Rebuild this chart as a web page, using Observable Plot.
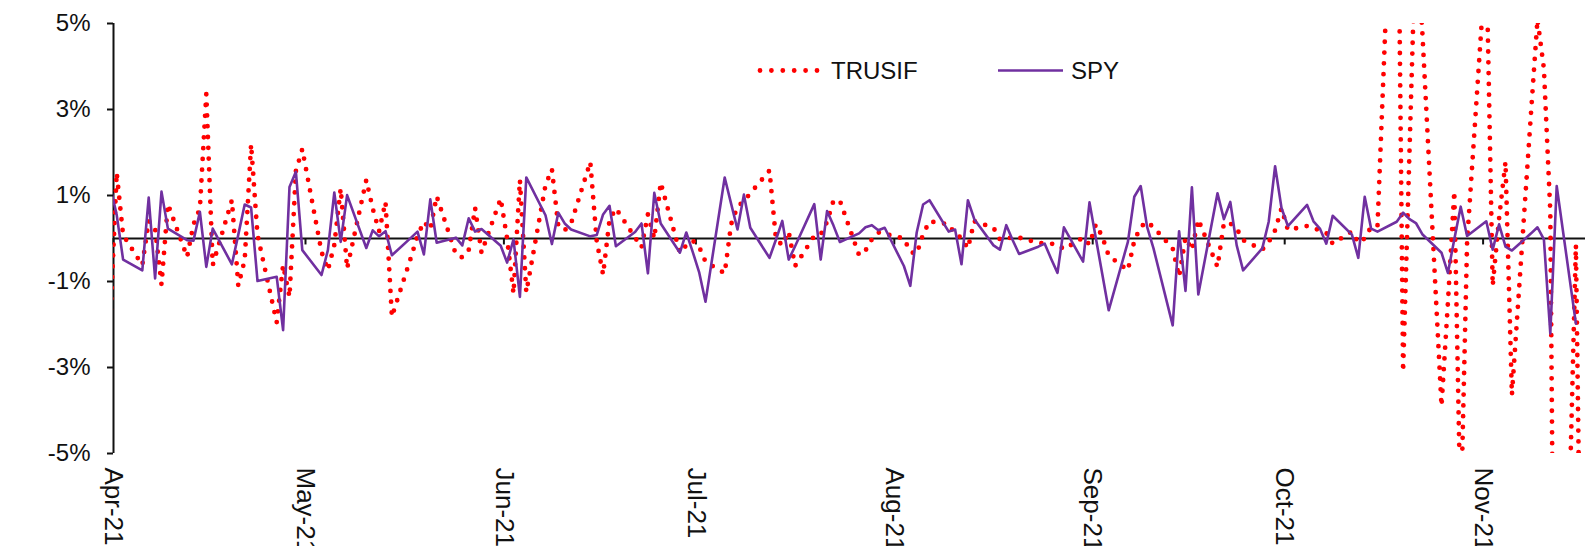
<!DOCTYPE html>
<html>
<head>
<meta charset="utf-8">
<script src="https://cdn.jsdelivr.net/npm/d3@7"></script>
<script src="https://cdn.jsdelivr.net/npm/@observablehq/plot@0.6"></script>
<style>
  html, body { margin: 0; padding: 0; background: #fff; }
  #wrap { position: relative; width: 1586px; height: 546px; overflow: hidden; font-family: Arial, "Liberation Sans", sans-serif; }
  #wrap svg.legend { position: absolute; left: 0; top: 0; pointer-events: none; }
</style>
</head>
<body>
<div id="wrap"></div>
<script>
// ---- data (daily returns, %) ----
const dates = [
  "2021-03-31",
  "2021-04-01","2021-04-02","2021-04-05","2021-04-06","2021-04-07","2021-04-08","2021-04-09","2021-04-12","2021-04-13","2021-04-14","2021-04-15","2021-04-16","2021-04-19","2021-04-20","2021-04-21","2021-04-22","2021-04-23","2021-04-26","2021-04-27","2021-04-28","2021-04-29","2021-04-30",
  "2021-05-03","2021-05-04","2021-05-05","2021-05-06","2021-05-07","2021-05-10","2021-05-11","2021-05-12","2021-05-13","2021-05-14","2021-05-17","2021-05-18","2021-05-19","2021-05-20","2021-05-21","2021-05-24","2021-05-25","2021-05-26","2021-05-27","2021-05-28","2021-05-31",
  "2021-06-01","2021-06-02","2021-06-03","2021-06-04","2021-06-07","2021-06-08","2021-06-09","2021-06-10","2021-06-11","2021-06-14","2021-06-15","2021-06-16","2021-06-17","2021-06-18","2021-06-21","2021-06-22","2021-06-23","2021-06-24","2021-06-25","2021-06-28","2021-06-29","2021-06-30",
  "2021-07-01","2021-07-02","2021-07-05","2021-07-06","2021-07-07","2021-07-08","2021-07-09","2021-07-12","2021-07-13","2021-07-14","2021-07-15","2021-07-16","2021-07-19","2021-07-20","2021-07-21","2021-07-22","2021-07-23","2021-07-26","2021-07-27","2021-07-28","2021-07-29","2021-07-30",
  "2021-08-02","2021-08-03","2021-08-04","2021-08-05","2021-08-06","2021-08-09","2021-08-10","2021-08-11","2021-08-12","2021-08-13","2021-08-16","2021-08-17","2021-08-18","2021-08-19","2021-08-20","2021-08-23","2021-08-24","2021-08-25","2021-08-26","2021-08-27","2021-08-30","2021-08-31",
  "2021-09-01","2021-09-02","2021-09-03","2021-09-06","2021-09-07","2021-09-08","2021-09-09","2021-09-10","2021-09-13","2021-09-14","2021-09-15","2021-09-16","2021-09-17","2021-09-20","2021-09-21","2021-09-22","2021-09-23","2021-09-24","2021-09-27","2021-09-28","2021-09-29","2021-09-30",
  "2021-10-01","2021-10-04","2021-10-05","2021-10-06","2021-10-07","2021-10-08","2021-10-11","2021-10-12","2021-10-13","2021-10-14","2021-10-15","2021-10-18","2021-10-19","2021-10-20","2021-10-21","2021-10-22","2021-10-25","2021-10-26","2021-10-27","2021-10-28","2021-10-29",
  "2021-11-01","2021-11-02","2021-11-03","2021-11-04","2021-11-05","2021-11-08","2021-11-09","2021-11-10","2021-11-11","2021-11-12","2021-11-15","2021-11-16"
];

const trusif = [
  -1.9,
  1.53, 0.08, -0.62, 0.41, 0.23, -1.07, 0.8, -0.43, 0.33, 0.7, 3.36, -0.62, 0.89, -1.1, -0.5, 2.19, 0.08, -1.95, -0.62, -1.36, 1.57, 2.08,
  -0.31, -0.74, -0.15, 1.16, -0.7, 1.36, 0.7, 0.17, 0.85, -1.82, -0.43, 0.06, 0.39, 0.21, 0.98, -0.37, -0.44, -0.27, 0.71, -0.33, 0.93,
  0.0, -1.28, 1.36, -1.25, 1.24, 1.61, 0.29, 0.19, 0.35, 1.78, -0.06, -0.84, 0.43, 0.7, 0.02, -0.21, 0.56, 0.0, 1.3, -0.33, -0.16, -0.05,
  -0.19, -0.54, -0.81, 0.33, 0.74, 0.87, 1.05, 1.58, 0.0, -0.16, 0.16, -0.64, 0.06, 0.09, 0.39, 0.88, 0.88, -0.39, -0.28, -0.02, 0.14, 0.11,
  0.0, -0.31, -0.36, 0.1, 0.4, 0.33, 0.1, 0.02, -0.23, 0.4, 0.25, -0.02, -0.02, 0.04, 0.02, -0.1, -0.12, -0.12, -0.14, -0.25, 0.02, -0.14,
  0.33, 0.04, -0.4, -0.74, -0.05, 0.27, 0.39, 0.26, -0.23, -0.89, 0.02, -0.27, 0.44, -0.66, 0.36, 0.35, 0.23, -0.04, -0.26, -0.08, 0.19, 0.7,
  0.2, 0.29, 0.25, 0.18, 0.13, -0.12, 0.16, -0.1, 0.0, 0.27, 0.29, 11.6, -3.1, 2.03, 7.17, 4.82, -3.9, -1.5, 1.1, -6.6, -0.08,
  6.63, -1.1, 0.47, 1.78, -3.64, 2.95, 5.1, 3.95, 0.62, -18, -0.15, -11.6
];

const spy = [
  1.2,
  0.55, -0.49, -0.74, 0.95, -0.93, 1.09, 0.23, -0.04, -0.05, 0.62, -0.66, 0.23, -0.6, 0.09, 0.79, 0.72, -0.99, -0.89, -2.13, 1.2, 1.55, -0.27,
  -0.85, -0.27, 1.07, -0.08, 1.01, -0.22, 0.19, 0.05, 0.17, -0.39, 0.02, 0.16, -0.37, 0.91, -0.1, 0.02, -0.16, 0.47, 0.16, 0.22, -0.17,
  -0.56, -0.02, -1.36, 1.42, 0.54, -0.13, 0.6, 0.35, 0.21, 0.05, 0.08, 0.56, 0.76, -0.18, 0.15, 0.35, -0.81, 1.06, 0.35, -0.33, 0.14, -0.31,
  -0.78, -1.47, 1.42, 0.81, 0.21, 1.02, 0.25, -0.45, -0.03, 0.41, -0.49, -0.18, 0.8, -0.49, 0.64, 0.3, -0.08, 0.12, 0.26, 0.31, 0.19, 0.25,
  -0.64, -1.1, 0.14, 0.79, 0.89, 0.16, 0.21, -0.6, 0.89, 0.45, -0.16, -0.26, 0.31, -0.04, -0.36, -0.19, -0.12, -0.47, -0.8, 0.26, -0.54, 0.84,
  0.0, -0.83, -1.67, -0.08, 0.97, 1.22, 0.27, -0.23, -2.02, 0.17, -1.22, 1.19, -1.3, 1.05, 0.45, 0.85, -0.16, -0.74, -0.23, 0.39, 1.68, 0.71,
  0.29, 0.78, 0.4, 0.23, -0.12, 0.53, 0.09, -0.45, 0.97, 0.23, 0.16, 0.39, 0.6, 0.45, 0.36, 0.1, -0.33, -0.8, -0.02, 0.74, 0.06,
  0.4, -0.26, 0.33, -0.19, -0.28, 0.12, 0.26, -0.02, -2.21, 1.22, -1.98, null
];

const seriesNames = ["TRUSIF", "SPY"];
const seriesColors = ["#FF0000", "#7030A0"];
const monthTicks = ["2021-04-01","2021-05-01","2021-06-01","2021-07-01","2021-08-01","2021-09-01","2021-10-01","2021-11-01"];
const yTicks = [-5, -3, -1, 1, 3, 5];
const xDomain = ["2021-04-01", "2021-11-17"];
const yDomain = [-5, 5];

// ---- build ----
const atNoon = s => new Date(s + "T12:00:00Z");
const atMidnight = s => new Date(s + "T00:00:00Z");
const rows = dates.map((d, i) => ({date: atNoon(d), trusif: trusif[i], spy: spy[i]}));
const months = monthTicks.map(atMidnight);
const fmtMonth = d3.utcFormat("%b-%y");
const ink = "#111";

const chart = Plot.plot({
  width: 1586,
  height: 546,
  marginLeft: 113,
  marginRight: 1,
  marginTop: 23,
  marginBottom: 93,
  style: {fontFamily: "Arial, 'Liberation Sans', sans-serif", fontSize: "24px", color: ink, background: "#fff", overflow: "visible"},
  x: {type: "utc", domain: xDomain.map(atMidnight)},
  y: {domain: yDomain},
  marks: [
    Plot.axisY(yTicks, {anchor: "left", tickSize: 6, tickPadding: 17, tickFormat: d => d + "%", fontSize: 24, strokeWidth: 2}),
    Plot.axisX(months, {anchor: "bottom", tickSize: 0, tickPadding: 14, tickRotate: 90, textAnchor: "start", lineAnchor: "middle", tickFormat: fmtMonth, fontSize: 26}),
    Plot.ruleX([months[0]], {y1: yDomain[0], y2: yDomain[1], stroke: ink, strokeWidth: 2}),
    Plot.ruleX(months, {y1: 0, y2: -0.15, stroke: ink, strokeWidth: 2}),
    Plot.ruleY([0], {stroke: ink, strokeWidth: 2.2}),
    Plot.line(rows, {x: "date", y: "trusif", stroke: seriesColors[0], strokeWidth: 4.8, strokeDasharray: "0 10.8", strokeLinecap: "round", strokeLinejoin: "round", clip: true}),
    Plot.line(rows, {x: "date", y: "spy", stroke: seriesColors[1], strokeWidth: 2.6, clip: true})
  ]
});

const wrap = document.getElementById("wrap");
wrap.appendChild(chart);

// ---- legend (inside plot area, like the reference) ----
const legend = d3.create("svg")
  .attr("class", "legend")
  .attr("width", 1586)
  .attr("height", 546)
  .style("font-family", "Arial, 'Liberation Sans', sans-serif")
  .style("font-size", "24px");

const legendItems = [
  {name: seriesNames[0], color: seriesColors[0], x0: 760, x1: 817, tx: 831, dash: "0 11.4", w: 4.8},
  {name: seriesNames[1], color: seriesColors[1], x0: 998, x1: 1063, tx: 1071, dash: null, w: 2.6}
];
for (const it of legendItems) {
  const ln = legend.append("line")
    .attr("x1", it.x0).attr("x2", it.x1).attr("y1", 70.5).attr("y2", 70.5)
    .attr("stroke", it.color).attr("stroke-width", it.w).attr("stroke-linecap", it.dash ? "round" : "butt");
  if (it.dash) ln.attr("stroke-dasharray", it.dash);
  legend.append("text").attr("x", it.tx).attr("y", 79).attr("fill", ink).text(it.name);
}
wrap.appendChild(legend.node());
</script>
</body>
</html>
